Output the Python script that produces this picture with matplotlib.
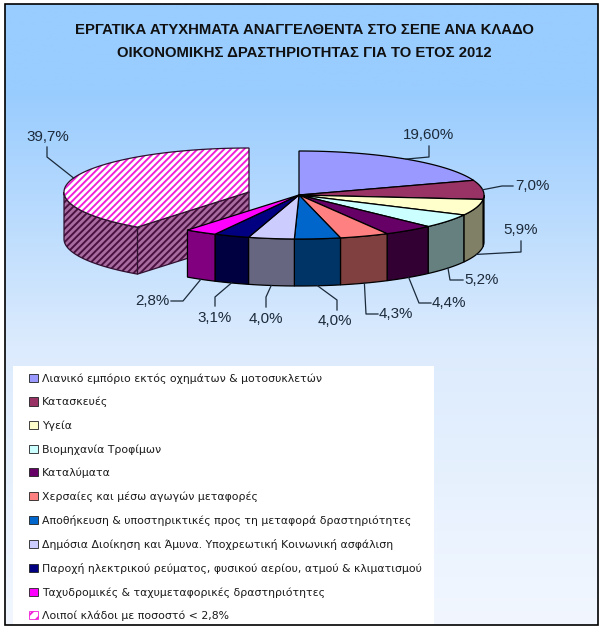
# -*- coding: utf-8 -*-
import numpy as np
import matplotlib
matplotlib.use('Agg')
import matplotlib.pyplot as plt
from matplotlib.patches import Polygon, Rectangle, Patch
from matplotlib.colors import LinearSegmentedColormap

# data
categories = ['Λιανικό εμπόριο εκτός οχημάτων & μοτοσυκλετών',
              'Κατασκευές',
              'Υγεία',
              'Βιομηχανία Τροφίμων',
              'Καταλύματα',
              'Χερσαίες και μέσω αγωγών μεταφορές',
              'Αποθήκευση & υποστηρικτικές προς τη μεταφορά δραστηριότητες',
              'Δημόσια Διοίκηση και Άμυνα. Υποχρεωτική Κοινωνική ασφάλιση',
              'Παροχή ηλεκτρικού ρεύματος, φυσικού αερίου, ατμού & κλιματισμού',
              'Ταχυδρομικές & ταχυμεταφορικές δραστηριότητες',
              'Λοιποί κλάδοι με ποσοστό < 2,8%']
values = [19.6, 7.0, 5.9, 5.2, 4.4, 4.3, 4.0, 4.0, 3.1, 2.8, 39.7]
value_labels = ['19,60%', '7,0%', '5,9%', '5,2%', '4,4%', '4,3%', '4,0%', '4,0%',
                '3,1%', '2,8%', '39,7%']
title_lines = ['ΕΡΓΑΤΙΚΑ ΑΤΥΧΗΜΑΤΑ ΑΝΑΓΓΕΛΘΕΝΤΑ ΣΤΟ ΣΕΠΕ ΑΝΑ ΚΛΑΔΟ',
               'ΟΙΚΟΝΟΜΙΚΗΣ ΔΡΑΣΤΗΡΙΟΤΗΤΑΣ ΓΙΑ ΤΟ ΕΤΟΣ 2012']

# styles
top_colors = ['#9999FF', '#993366', '#FFFFCC', '#CCFFFF', '#660066', '#FF8080',
              '#0066CC', '#CCCCFF', '#000080', '#FF00FF', '#FFFFFF']
side_colors = ['#4C4C80', '#4C1A33', '#808066', '#668080', '#330033', '#804040',
               '#003366', '#666680', '#000040', '#800080', '#A86CA0']
hatch_top = '#F020D8'
hatch_side = '#4A1040'
text_color = '#1C2A3A'

# pie geometry, in pixels
cx, cy = 299, 195
rx, ry = 185, 44
depth = 47
explode_dx, explode_dy = -50, -3

# leader elbows and text, in pixels: (elbow, end, text pos, ha, va)
leaders = [((429, 157), (429, 146), (429, 135), 'center', 'center'),
           ((502, 186), (513, 186), (515, 186), 'left', 'center'),
           ((521, 252), (521, 241), (521, 230), 'center', 'center'),
           ((450, 280), (463, 280), (464, 280), 'left', 'center'),
           ((419, 303), (431, 303), (432, 303), 'left', 'center'),
           ((366, 314), (378, 314), (379, 314), 'left', 'center'),
           ((337, 300), (337, 310), (335, 321), 'center', 'center'),
           ((266, 297), (266, 307), (266, 319), 'center', 'center'),
           ((215, 297), (215, 306), (215, 318), 'center', 'center'),
           ((183, 301), (171, 301), (170, 301), 'right', 'center'),
           ((47, 157), (47, 147), (48, 137), 'center', 'center')]

plt.rcParams['hatch.linewidth'] = 1.4

fig = plt.figure(figsize=(6.04, 6.33), dpi=100)
ax = fig.add_axes([0, 0, 1, 1])
ax.set_xlim(0, 604)
ax.set_ylim(633, 0)
ax.axis('off')

# background gradient + frame
bg = LinearSegmentedColormap.from_list('bg', [(0, '#99CCFF'), (0.14, '#99CCFF'),
                                              (0.55, '#DCEBFD'), (1, '#F2F7FF')])
grad = np.linspace(0, 1, 256).reshape(-1, 1)
ax.imshow(grad, cmap=bg, extent=(5, 598, 625, 4), aspect='auto', zorder=0)
ax.set_xlim(0, 604)
ax.set_ylim(633, 0)
ax.add_patch(Rectangle((5, 4), 593, 621, fc='none', ec='black', lw=1.2, zorder=50))


def rim(x0, y0, angle):
    # angle is clockwise from 12 o'clock
    a = np.radians(angle)
    return np.column_stack((x0 + rx * np.sin(a), y0 - ry * np.cos(a)))


def arc(x0, y0, a0, a1):
    return rim(x0, y0, np.linspace(a0, a1, max(int(abs(a1 - a0)) * 2, 2)))


def side_poly(x0, y0, a0, a1):
    a0 = max(a0, 90)
    a1 = min(a1, 270)
    if a1 <= a0:
        return None
    p = arc(x0, y0, a0, a1)
    return np.vstack((p, p[::-1] + [0, depth]))


def draw(points, fc, z, hatch=None, hatch_color=None):
    if hatch:
        ax.add_patch(Polygon(points, closed=True, fc=fc, ec=hatch_color, hatch=hatch,
                             lw=0, zorder=z))
        ax.add_patch(Polygon(points, closed=True, fc='none', ec='#301030', lw=0.9, zorder=z + 0.1))
    else:
        ax.add_patch(Polygon(points, closed=True, fc=fc, ec='black', lw=0.9, zorder=z))


edges = np.concatenate(([0], np.cumsum(values))) / np.sum(values) * 360
mids = (edges[:-1] + edges[1:]) / 2

# the exploded slice goes first, the rest of the pie sits over it
ox, oy = cx + explode_dx, cy + explode_dy
a0, a1 = edges[-2], edges[-1]
start = rim(ox, oy, a0)[0]
draw(np.vstack(([ox, oy], start, start + [0, depth], [ox, oy + depth])), side_colors[-1], 2,
     '/////', hatch_side)
draw(side_poly(ox, oy, a0, a1), side_colors[-1], 3, '/////', hatch_side)
draw(np.vstack(([ox, oy], arc(ox, oy, a0, a1))), top_colors[-1], 4, '/////', hatch_top)

for i in range(len(values) - 1):
    side = side_poly(cx, cy, edges[i], edges[i + 1])
    if side is not None:
        draw(side, side_colors[i], 10)
    draw(np.vstack(([cx, cy], arc(cx, cy, edges[i], edges[i + 1]))), top_colors[i], 11)

# leaders and value labels
for i, (elbow, end, pos, ha, va) in enumerate(leaders):
    if i == len(values) - 1:
        start = rim(ox, oy, mids[i])[0]
    else:
        start = rim(cx, cy, mids[i])[0]
    if 90 < mids[i] < 270:
        start = start + [0, depth]
    ax.plot([start[0], elbow[0], end[0]], [start[1], elbow[1], end[1]],
            color='#1A2A3A', lw=0.9, zorder=20)
    ax.text(pos[0], pos[1], value_labels[i], ha=ha, va=va, fontsize=10.9,
            family='Liberation Sans', color=text_color, zorder=21)

# title
for y, line in zip((30, 53), title_lines):
    ax.text(304, y, line, ha='center', va='center', fontsize=10.75, fontweight='bold',
            family='Liberation Sans', color='#101010', zorder=21)

# legend
ax.add_patch(Rectangle((13, 366), 421, 259, fc='white', ec='none', zorder=5))
handles = []
for i in range(len(categories)):
    if i == len(categories) - 1:
        handles.append(Patch(fc='white', ec=hatch_top, hatch='///', lw=0.6))
    else:
        handles.append(Patch(fc=top_colors[i], ec='#202020', lw=0.6))
leg = ax.legend(handles, categories, loc='upper left', bbox_to_anchor=(26, 370),
                bbox_transform=ax.transData, frameon=False, fontsize=7.85,
                labelspacing=1.2, handlelength=0.8, handleheight=0.8, handletextpad=0.4,
                borderpad=0.3, borderaxespad=0, labelcolor='#1A1A1A')
leg.set_zorder(30)

fig.savefig('out.png', dpi=100)
